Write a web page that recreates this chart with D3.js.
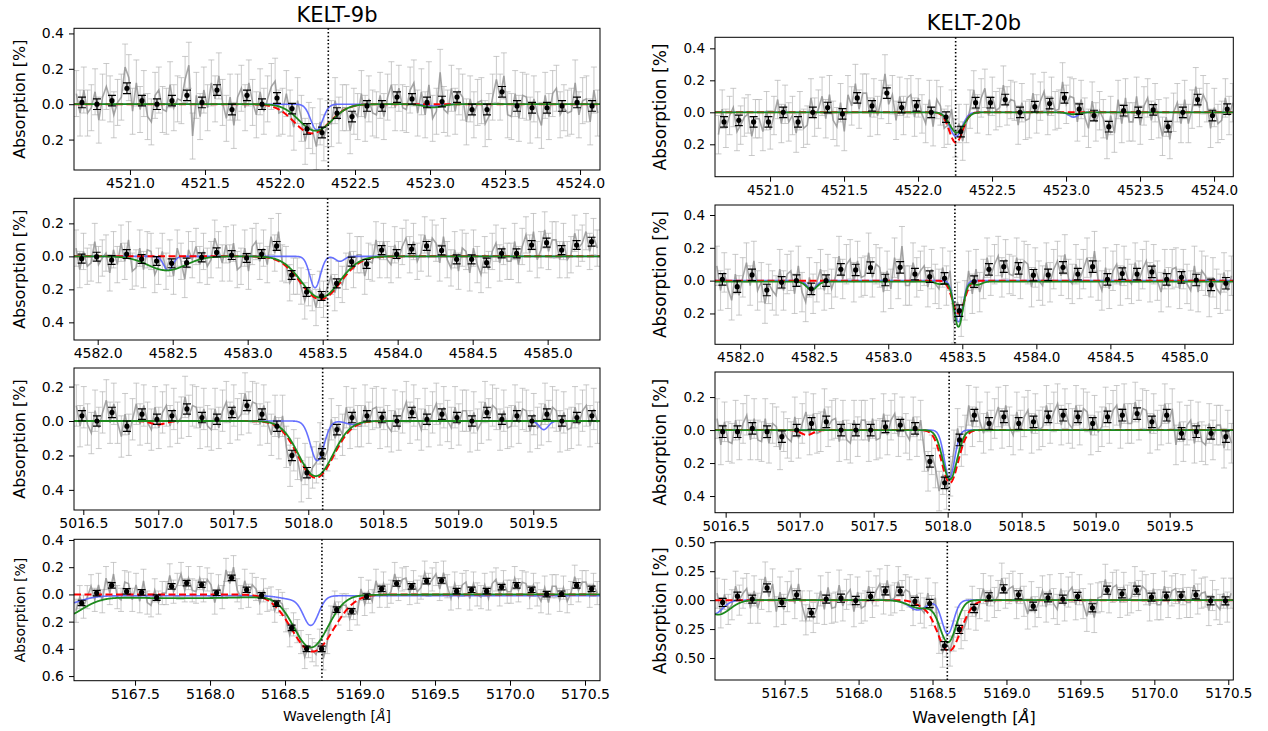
<!DOCTYPE html>
<html><head><meta charset="utf-8">
<script src="https://cdn.jsdelivr.net/npm/d3@7/dist/d3.min.js"></script>
<style>html,body{margin:0;padding:0;background:#fff;}</style>
</head><body>
<svg id="chart" width="1268" height="731" xmlns="http://www.w3.org/2000/svg"></svg>
<script>
// ================= DATA (values in %) =================
const planets = ["KELT-9b", "KELT-20b"];
const xTicks_4522 = [4521.0, 4521.5, 4522.0, 4522.5, 4523.0, 4523.5, 4524.0];
const xTicks_4583 = [4582.0, 4582.5, 4583.0, 4583.5, 4584.0, 4584.5, 4585.0];
const xTicks_5018 = [5016.5, 5017.0, 5017.5, 5018.0, 5018.5, 5019.0, 5019.5];
const xTicks_5168 = [5167.5, 5168.0, 5168.5, 5169.0, 5169.5, 5170.0, 5170.5];

const grayStep = 0.025;   // spacing of the unbinned spectrum (Å)
const binStep = 0.1;      // spacing of the binned points (Å)

// ---- KELT-9b, 4522 Å ----
const gray_9_1 = [.06,-.05,.08,-.05, -.02,.07,-.09,.04, .10,.03,-.06,.01, .04,.21,.15,-.04, .12,-.03,.06,-.07, -.10,.05,.08,-.03, -.04,.11,-.02,.03, .02,.14,.22,-.18, .05,-.07,.08,-.02, .12,.03,.16,.01, -.08,.04,-.12,.04, .09,-.02,.12,.01, -.06,.07,-.04,.03, .10,.13,-.05,-.04, .06,-.05,-.13,.02, -.08,-.21,-.12,-.15, -.24,-.10,-.19,-.11, -.11,.02,-.09,-.02, -.02,-.15,-.04,-.07, .06,-.08,.03,-.05, -.06,.05,-.07,.04, .11,-.02,.09,-.02, -.03,.08,.12,-.05, .07,-.06,.11,-.08, -.04,.18,-.03,-.05, .09,-.04,.07,.04, -.10,.03,-.06,.01, .02,-.11,-.07,.04, .14,.04,.16,-.06, -.07,.06,-.08,.05, .04,-.09,.03,-.06, -.12,.05,-.07,.06, .09,-.06,-.02,-.05, -.04,.12,-.06,.02, .03,-.10,.08,-.05];
const bins_9_1 = [0.01,0.00,0.02,0.09,0.02,0.00,0.02,0.05,0.01,0.08,-0.03,0.05,0.00,0.035,-0.025,-0.14,-0.16,-0.05,-0.07,-0.01,-0.01,0.04,0.03,0.01,0.015,0.04,-0.03,-0.03,0.07,-0.01,-0.02,-0.02,-0.01,0.01,-0.01];
const blue_9_1 = {base: 0, lines: [[4522.245, 0.145, 0.04], [4523.02, 0.01, 0.05]]};
const red_9_1 = {base: 0, lines: [[4522.213, 0.165, 0.119]]};
const green_9_1 = {base: 0, lines: [[4522.237, 0.15, 0.11], [4523.02, 0.018, 0.06]]};

// ---- KELT-9b, 4583 Å ----
const gray_9_2 = [.05,-.08,.03,-.06, -.04,.09,-.05,-.01, .02,-.10,.04,-.05, .08,-.03,.10,-.09, -.07,.05,-.08,.04, .03,-.11,-.06,.03, -.09,-.01,-.12,.05, -.03,-.14,.04,-.02, .06,-.05,.03,-.06, -.02,.11,.04,-.04, .07,-.04,.08,-.08, -.06,.05,-.09,.06, .09,-.03,.05,-.05, .12,.02,.15,-.04, -.05,-.16,-.12,-.12, -.18,-.27,-.19,-.22, -.31,-.20,-.26,-.19, -.12,-.22,-.14,-.17, -.09,.03,-.08,.01, .01,-.12,-.03,-.04, .10,-.02,.09,-.02, -.05,.07,-.02,.06, .11,.01,.09,-.03, .02,.13,-.01,.11, .08,-.04,.12,-.02, -.07,.04,-.09,.05, .03,-.10,.05,-.05, -.11,.01,-.08,.03, .08,-.04,.06,-.03, -.03,.09,-.05,.06, .13,.02,.15,-.02, .04,.16,.03,.10, .10,-.02,.09,-.02, .01,.14,.05,.08, .15,.03,.12,.05];
const bins_9_2 = [-0.014,-0.002,-0.022,0.014,-0.016,-0.028,-0.042,-0.038,-0.006,0.024,0.008,-0.01,0.014,0.063,-0.113,-0.216,-0.24,-0.164,-0.032,-0.046,0.038,0.014,0.044,0.063,0.036,-0.018,-0.018,-0.038,0.018,0.018,0.069,0.083,0.038,0.069,0.089];
const blue_9_2 = {base: 0, lines: [[4583.449, 0.19, 0.035], [4583.615, 0.03, 0.03], [4582.47, 0.085, 0.03]]};
const red_9_2 = {base: 0, lines: [[4583.485, 0.26, 0.133]]};
const green_9_2 = {base: 0, lines: [[4583.485, 0.25, 0.128], [4582.46, 0.085, 0.127]]};

// ---- KELT-9b, 5018 Å ----
const gray_9_3 = [.09,-.03,.08,-.02, -.07,.06,-.04,.05, .12,-.01,.10,-.01, -.09,.04,-.08,.01, .10,-.02,.09,-.01, -.05,.08,-.04,.05, .09,-.03,.07,-.01, .02,.14,.03,.09, .08,-.04,.07,-.03, -.05,.07,-.04,.06, .11,-.01,.09,.01, .04,.16,.05,.11, .10,-.02,.09,-.01, -.08,.03,-.10,.03, -.15,-.26,-.17,-.22, -.35,-.25,-.33,-.27, -.24,-.13,-.22,-.17, .01,-.10,-.03,-.08, .08,-.04,.07,-.03, -.03,.09,-.01,.07, .08,-.04,.07,-.03, -.06,.06,-.05,.05, .11,-.01,.09,.01, -.05,.07,-.03,.05, .10,-.02,.08,.00, -.04,.08,-.02,.06, .06,-.06,.05,-.05, -.01,.11,.01,.09, .07,-.05,.06,-.04, -.03,.09,-.01,.07, .06,-.06,.04,-.04, -.02,.10,.00,.08, .06,-.06,.05,-.05, -.04,.08,-.02,.06, .09,-.03,.07,-.01];
const bins_9_3 = [0.03,0.0,0.05,-0.03,0.04,0.01,0.03,0.07,0.02,0.01,0.05,0.09,0.04,-0.03,-0.2,-0.3,-0.19,-0.05,0.02,0.03,0.02,0.0,0.05,0.01,0.04,0.02,0.0,0.05,0.01,0.03,0.0,0.04,0.0,0.02,0.03];
const blue_9_3 = {base: 0, lines: [[5018.06, 0.23, 0.045], [5019.57, 0.05, 0.03], [5018.3, 0.02, 0.05]]};
const red_9_3 = {base: 0, lines: [[5018.05, 0.33, 0.12], [5017.0, 0.02, 0.05]]};
const green_9_3 = {base: 0, lines: [[5018.05, 0.32, 0.115]]};

// ---- KELT-9b, 5168 Å ----
const gray_9_4 = [-.12,-.02,-.09,-.02, .06,-.04,.07,-.05, .12,.01,.15,-.02, -.04,.09,.08,-.04, .07,-.05,.10,-.06, -.08,.03,-.06,.01, .01,.14,.02,.07, .15,.03,.12,.03, .02,.12,.03,.11, .07,-.06,.06,-.02, .18,.08,.20,.03, -.02,.10,-.01,.07, .04,-.06,.03,-.04, -.03,-.12,-.05,-.07, -.19,-.30,-.22,-.27, -.35,-.46,-.38,-.41, -.44,-.34,-.47,-.35, -.17,-.06,-.14,-.08, -.08,-.18,-.10,-.14, .04,-.07,.02,-.05, .10,-.01,.08,-.01, .02,.15,.04,.11, .12,.01,.09,.02, .05,.16,.07,.11, .15,.04,.16,.06, -.03,.08,-.02,.07, .09,-.03,.08,.00, -.02,.07,-.03,.08, .11,.00,.09,.02, .02,.12,.03,.09, .08,-.02,.07,.00, -.05,.05,-.06,.06, .06,-.04,.05,-.05, .01,.13,.03,.09, .09,-.01,.07,.01];
const bins_9_4 = [-0.063,0.01,0.066,0.022,0.015,-0.024,0.059,0.083,0.071,0.012,0.122,0.034,-0.007,-0.068,-0.246,-0.4,-0.4,-0.112,-0.124,-0.015,0.041,0.08,0.059,0.098,0.102,0.024,0.034,0.024,0.054,0.066,0.034,0.002,0.005,0.066,0.041];
const blue_9_4 = {base: -0.01, lines: [[5168.673, 0.21, 0.05], [5168.55, 0.025, 0.08], [5167.0, 0.07, 0.12]]};
const red_9_4 = {base: 0, lines: [[5168.684, 0.42, 0.14]]};
const green_9_4 = {base: 0, lines: [[5168.673, 0.38, 0.113], [5167.8, 0.028, 0.6], [5167.0, 0.16, 0.14]]};

// ---- KELT-20b, 4522 Å ----
const gray_20_1 = [-.14,.02,-.10,-.02, .03,-.12,-.08,-.03, -.01,-.15,-.04,-.04, -.12,.01,-.11,-.02, .08,-.07,.05,-.06, -.02,-.13,.01,-.10, -.08,.09,-.03,.02, .10,-.04,.11,-.05, -.09,.06,-.12,.11, .04,.18,.02,.12, .12,-.03,.09,-.02, .08,.24,.05,.11, -.05,.10,-.02,.09, .11,-.03,.09,-.01, -.07,.08,-.09,.08, .04,-.10,-.08,.02, -.16,-.07,-.18,-.07, .02,.14,-.01,.09, .15,-.02,.10,.01, .03,.17,.04,.08, .07,-.08,.06,-.05, -.04,.12,-.01,.07, .13,-.02,.10,.01, .02,.19,.05,.10, .09,-.06,.08,-.03, -.10,.07,-.06,.01, -.04,-.17,-.02,-.13, .08,-.07,.09,-.06, -.06,.10,-.08,.04, .09,-.05,.06,-.04, -.15,-.03,-.17,.00, .06,-.07,.08,-.07, .02,.16,.03,.11, .06,-.10,.03,-.07, -.05,.09,-.02,.06];
const bins_20_1 = [-0.06,-0.05,-0.06,-0.06,0.00,-0.06,0.00,0.03,-0.01,0.09,0.04,0.12,0.03,0.04,0.00,-0.03,-0.12,0.06,0.06,0.08,0.00,0.035,0.055,0.09,0.02,-0.02,-0.09,0.01,0.00,0.015,-0.09,0.00,0.08,-0.02,0.02];
const blue_20_1 = {base: 0, lines: [[4522.256, 0.15, 0.042], [4523.05, 0.03, 0.03]]};
const red_20_1 = {base: 0, lines: [[4522.256, 0.19, 0.045]]};
const green_20_1 = {base: 0, lines: [[4522.262, 0.127, 0.048], [4523.05, 0.012, 0.04]]};

// ---- KELT-20b, 4583 Å ----
const gray_20_2 = [.09,-.06,.05,-.05, -.12,.04,-.09,.02, .11,-.03,.12,-.06, -.01,-.14,-.02,-.06, -.09,.07,-.06,.04, .06,-.08,.09,-.07, -.13,.02,-.08,-.01, .07,-.06,.04,-.05, .02,.15,.01,.10, .13,-.01,.12,.02, .03,.17,.02,.10, .08,-.07,.06,-.05, .14,.01,.21,-.03, -.03,.11,.02,.06, .09,-.04,.07,-.02, -.05,.08,-.03,.06, -.26,-.13,-.22,-.12, .06,-.08,.07,-.07, .01,.14,.03,.10, .15,.02,.13,.04, .03,.14,.01,.12, .10,-.04,.08,.00, -.03,.11,-.01,.07, .12,.03,.16,.01, -.02,.10,.01,.07, .14,.02,.18,.00, -.06,.08,-.05,.06, .10,-.03,.09,.01, -.02,.11,.00,.07, .12,-.01,.10,.00, -.07,.07,-.04,.07, .08,-.05,.07,-.02, -.06,.09,-.07,.06, .03,-.10,.02,-.05, -.08,.05,-.06,.03];
const bins_20_2 = [0.008,-0.037,0.035,-0.057,-0.01,0.0,-0.05,0.0,0.069,0.065,0.079,0.004,0.081,0.04,0.024,0.014,-0.183,-0.006,0.069,0.085,0.075,0.033,0.035,0.081,0.04,0.085,0.008,0.043,0.04,0.053,0.008,0.02,0.004,-0.026,-0.016];
const blue_20_2 = {base: 0, lines: [[4583.474, 0.25, 0.03], [4582.483, 0.055, 0.03]]};
const red_20_2 = {base: 0, lines: [[4583.474, 0.2, 0.04]]};
const green_20_2 = {base: -0.006, lines: [[4583.474, 0.275, 0.03], [4582.483, 0.05, 0.035], [4583.35, 0.015, 0.03], [4583.6, 0.02, 0.03]]};

// ---- KELT-20b, 5018 Å ----
const gray_20_3 = [.07,-.09,.05,-.07, -.08,.06,-.06,.04, .09,-.06,.07,-.06, -.07,.07,-.08,.04, .02,-.12,-.01,-.05, -.07,.08,-.05,.04, .11,-.03,.10,-.02, -.01,.13,.02,.06, .07,-.07,.06,-.06, -.08,.06,-.04,.06, .06,-.07,.07,-.06, -.05,.10,-.03,.06, .10,-.04,.08,-.02, -.06,.08,-.04,.06, -.13,-.25,-.15,-.23, -.37,-.27,-.36,-.28, -.12,.01,-.10,-.03, .15,.02,.14,.05, -.02,.11,.00,.07, .14,.01,.15,.02, -.03,.11,.00,.08, .12,-.02,.10,.00, .02,.15,.04,.11, .16,.03,.13,.04, .01,.15,.03,.13, .11,-.03,.09,-.01, .02,.14,.04,.12, .15,.01,.16,.04, .04,.17,.06,.13, .12,-.02,.10,.00, .03,.16,.04,.13, -.09,.05,-.07,.03, .06,-.08,.05,-.07, -.09,.04,-.06,.03, .03,-.11,.00,-.08];
const bins_20_3 = [-0.01,-0.01,0.01,-0.01,-0.04,0.0,0.04,0.05,0.0,0.0,0.0,0.02,0.03,0.01,-0.19,-0.32,-0.06,0.09,0.04,0.08,0.04,0.05,0.08,0.09,0.08,0.04,0.08,0.09,0.1,0.05,0.09,-0.02,-0.01,-0.02,-0.04];
const blue_20_3 = {base: 0, lines: [[5018.012, 0.29, 0.035]]};
const red_20_3 = {base: 0, lines: [[5018.015, 0.32, 0.055], [5017.05, 0.03, 0.04]]};
const green_20_3 = {base: 0, lines: [[5018.015, 0.3, 0.048]]};

// ---- KELT-20b, 5168 Å ----
const gray_20_4 = [.06,-.11,.05,-.08, -.04,.12,.00,.06, .10,-.07,.08,-.07, .05,.20,.03,.14, -.10,.07,-.08,.03, .12,-.03,.14,-.05, -.17,-.05,-.15,-.07, .08,-.08,.11,-.07, -.06,.13,-.05,.05, .09,-.10,.07,-.07, -.05,.12,-.02,.08, .14,.01,.17,.00, .02,.16,.04,.09, .07,-.09,.05,-.07, -.11,.06,-.09,.02, -.33,-.45,-.36,-.44, -.31,-.19,-.29,-.22, -.12,-.01,-.13,-.03, .10,-.05,.08,-.02, .04,.19,.06,.10, .12,-.03,.10,-.01, -.12,.03,-.10,-.02, .08,-.06,.09,-.03, -.08,.10,-.05,.07, .11,-.04,.09,-.03, -.14,.01,-.15,.02, .03,.18,.02,.11, .13,-.02,.11,.00, .02,.16,.04,.12, .09,-.05,.10,-.04, -.04,.12,-.02,.08, .10,-.03,.09,-.02, -.02,.13,.01,.06, .07,-.09,.04,-.04, -.08,.06,-.06,.06];
const bins_20_4 = [-0.02,0.034,0.009,0.106,-0.02,0.046,-0.109,0.009,0.017,-0.003,0.032,0.08,0.078,-0.011,-0.029,-0.394,-0.253,-0.072,0.029,0.098,0.046,-0.052,0.02,0.009,0.032,-0.066,0.086,0.055,0.086,0.026,0.034,0.037,0.046,-0.006,-0.006];
const blue_20_4 = {base: 0, lines: [[5168.603, 0.29, 0.04], [5168.40, 0.085, 0.06], [5167.02, 0.12, 0.06]]};
const red_20_4 = {base: 0, lines: [[5168.61, 0.44, 0.08], [5168.42, 0.03, 0.05]]};
const green_20_4 = {base: 0, lines: [[5168.605, 0.36, 0.055], [5168.42, 0.07, 0.08], [5167.05, 0.125, 0.08]]};

// rest wavelength marks (dotted lines)
const restLines_9 = [4522.322, 4583.533, 5018.096, 5168.746];
const restLines_20 = [4522.254, 4583.45, 5018.01, 5168.60];
// first bin centre, error sizes
const binStarts_9 = [4520.68, 4581.893, 5016.491, 5167.144];
const binStarts_20 = [4520.689, 4581.88, 5016.48, 5167.081];
const grayErr_9 = [0.13, 0.11, 0.12, 0.085];
const grayErr_20 = [0.12, 0.12, 0.12, 0.13];
const binErr_9 = [0.03, 0.027, 0.03, 0.02];
const binErr_20 = [0.033, 0.035, 0.035, 0.035];

// ================= LAYOUT =================
const layout = [
  {box:[74,28.3,600,170], xDom:[4520.627,4524.133], yDom:[-0.372,0.429], yt:[0.4,0.2,0,-0.2], dec:1, tfs:14, ylfs:16},
  {box:[74,198.3,600,340], xDom:[4581.842,4585.349], yDom:[-0.507,0.352], yt:[0.2,0,-0.2,-0.4], dec:1, tfs:14, ylfs:16},
  {box:[74,368,600,510], xDom:[5016.438,5019.945], yDom:[-0.517,0.308], yt:[0.2,0,-0.2,-0.4], dec:1, tfs:14, ylfs:16},
  {box:[74,539.3,600,680.7], xDom:[5167.093,5170.6], yDom:[-0.634,0.405], yt:[0.4,0.2,0,-0.2,-0.4,-0.6], dec:1, tfs:14, ylfs:14},
  {box:[715,37.3,1233.3,176.7], xDom:[4520.628,4524.13], yDom:[-0.4025,0.469], yt:[0.4,0.2,0,-0.2], dec:1, tfs:13.5, ylfs:17},
  {box:[715,205,1233.3,344.3], xDom:[4581.83,4585.33], yDom:[-0.388,0.461], yt:[0.4,0.2,0,-0.2], dec:1, tfs:13.5, ylfs:17},
  {box:[715,372,1233.3,512.7], xDom:[5016.428,5019.93], yDom:[-0.501,0.352], yt:[0.2,0,-0.2,-0.4], dec:1, tfs:13.5, ylfs:17},
  {box:[715,541.7,1233.3,680], xDom:[5167.029,5170.534], yDom:[-0.69,0.505], yt:[0.5,0.25,0,-0.25,-0.5], dec:2, tfs:13.5, ylfs:17}
];
const xTicksRows = [xTicks_4522, xTicks_4583, xTicks_5018, xTicks_5168];
const panelData = [
  [gray_9_1, bins_9_1, blue_9_1, red_9_1, green_9_1],
  [gray_9_2, bins_9_2, blue_9_2, red_9_2, green_9_2],
  [gray_9_3, bins_9_3, blue_9_3, red_9_3, green_9_3],
  [gray_9_4, bins_9_4, blue_9_4, red_9_4, green_9_4],
  [gray_20_1, bins_20_1, blue_20_1, red_20_1, green_20_1],
  [gray_20_2, bins_20_2, blue_20_2, red_20_2, green_20_2],
  [gray_20_3, bins_20_3, blue_20_3, red_20_3, green_20_3],
  [gray_20_4, bins_20_4, blue_20_4, red_20_4, green_20_4]
];

// ================= DRAW =================
const FONT = "DejaVu Sans, sans-serif";
const svg = d3.select("#chart");
svg.append("rect").attr("width",1268).attr("height",731).attr("fill","#fff");
const defs = svg.append("defs");

function profile(model, x0, x1) {
  const pts = [];
  for (let x = x0; x <= x1 + 1e-9; x += 0.002) {
    let v = model.base;
    model.lines.forEach(([c, d, s]) => { v -= d * Math.exp(-((x - c) ** 2) / (2 * s * s)); });
    pts.push([x, v]);
  }
  return pts;
}

layout.forEach((L, idx) => {
  const col = idx < 4 ? 0 : 1, row = idx % 4;
  const [gray, bins, blue, red, green] = panelData[idx];
  const binStart = (col === 0 ? binStarts_9 : binStarts_20)[row];
  const grayStart = binStart - 1.5 * grayStep;
  const gErr = (col === 0 ? grayErr_9 : grayErr_20)[row];
  const bErr = (col === 0 ? binErr_9 : binErr_20)[row];
  const rest = (col === 0 ? restLines_9 : restLines_20)[row];
  const [l, t, r, b] = L.box;
  const x = d3.scaleLinear().domain(L.xDom).range([l, r]);
  const y = d3.scaleLinear().domain(L.yDom).range([b, t]);
  const cid = "clip" + idx;
  defs.append("clipPath").attr("id", cid).append("rect")
    .attr("x", l).attr("y", t).attr("width", r - l).attr("height", b - t);
  const g = svg.append("g").attr("clip-path", `url(#${cid})`);

  const gx = i => grayStart + i * grayStep;
  g.append("g").selectAll("path").data(gray).enter().append("path")
    .attr("d", (v, i) => {
      const xx = x(gx(i)), y1 = y(v - gErr), y2 = y(v + gErr);
      return `M${xx},${y1}V${y2}M${xx-3},${y1}h6M${xx-3},${y2}h6`;
    })
    .attr("fill", "none").attr("stroke", "#b4b4b4").attr("stroke-opacity", 0.7).attr("stroke-width", 1);
  g.append("path").datum(gray)
    .attr("d", d3.line().x((v, i) => x(gx(i))).y(v => y(v)))
    .attr("fill", "none").attr("stroke", "#8a8a8a").attr("stroke-opacity", 0.75).attr("stroke-width", 1.6);

  const ln = d3.line().x(d => x(d[0])).y(d => y(d[1]));
  g.append("path").datum(profile(blue, L.xDom[0], L.xDom[1])).attr("d", ln)
    .attr("fill", "none").attr("stroke", "#5560ff").attr("stroke-opacity", 0.9).attr("stroke-width", 1.6);
  g.append("path").datum(profile(red, L.xDom[0], L.xDom[1])).attr("d", ln)
    .attr("fill", "none").attr("stroke", "#ff0000").attr("stroke-width", 2).attr("stroke-dasharray", "7,3.5");
  g.append("path").datum(profile(green, L.xDom[0], L.xDom[1])).attr("d", ln)
    .attr("fill", "none").attr("stroke", "#1d8a1d").attr("stroke-width", 1.8);

  const bx = i => binStart + i * binStep;
  g.append("g").selectAll("path").data(bins).enter().append("path")
    .attr("d", (v, i) => {
      const xx = x(bx(i)), y1 = y(v - bErr), y2 = y(v + bErr);
      return `M${xx},${y1}V${y2}M${xx-4},${y1}h8M${xx-4},${y2}h8`;
    })
    .attr("fill", "none").attr("stroke", "#000").attr("stroke-width", 1.2);
  g.append("g").selectAll("circle").data(bins).enter().append("circle")
    .attr("cx", (v, i) => x(bx(i))).attr("cy", v => y(v)).attr("r", 2.6).attr("fill", "#000");

  svg.append("line").attr("x1", x(rest)).attr("x2", x(rest)).attr("y1", t).attr("y2", b)
    .attr("stroke", "#000").attr("stroke-width", 1.6).attr("stroke-dasharray", "1.5,2.2");

  const ax = svg.append("g").attr("transform", `translate(0,${b})`)
    .call(d3.axisBottom(x).tickValues(xTicksRows[row]).tickSize(5).tickPadding(3.5).tickFormat(d3.format(".1f")));
  const ay = svg.append("g").attr("transform", `translate(${l},0)`)
    .call(d3.axisLeft(y).tickValues(L.yt).tickSize(5).tickPadding(5).tickFormat(d => Math.abs(d).toFixed(L.dec)));
  [ax, ay].forEach(a => {
    a.select(".domain").remove();
    a.selectAll("line").attr("stroke", "#000");
    a.selectAll("text").attr("font-family", FONT).attr("font-size", L.tfs).attr("fill", "#000");
  });
  svg.append("rect").attr("x", l).attr("y", t).attr("width", r - l).attr("height", b - t)
    .attr("fill", "none").attr("stroke", "#000").attr("stroke-width", 1);

  const ylx = col === 0 ? 24.5 : 665.5;
  svg.append("text").attr("transform", `translate(${ylx},${(t + b) / 2}) rotate(-90)`)
    .attr("text-anchor", "middle").attr("font-family", FONT).attr("font-size", L.ylfs)
    .attr("fill", "#000").text("Absorption [%]");
});

svg.append("text").attr("x", 337).attr("y", 22).attr("text-anchor", "middle")
  .attr("font-family", FONT).attr("font-size", 21).text(planets[0]);
svg.append("text").attr("x", 974).attr("y", 30).attr("text-anchor", "middle")
  .attr("font-family", FONT).attr("font-size", 21).text(planets[1]);

function xlabel(cx, cy, fs) {
  const tx = svg.append("text").attr("x", cx).attr("y", cy).attr("text-anchor", "middle")
    .attr("font-family", FONT).attr("font-size", fs);
  tx.append("tspan").text("Wavelength [");
  tx.append("tspan").attr("font-style", "italic").text("Å");
  tx.append("tspan").text("]");
}
xlabel(337, 721, 14);
xlabel(974, 723, 16);
</script>
</body></html>
